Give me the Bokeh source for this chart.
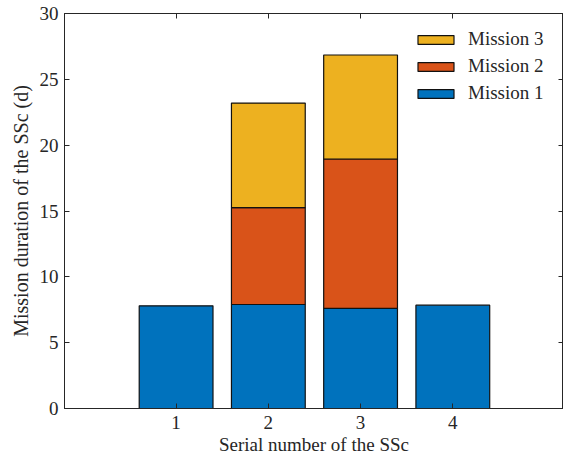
from bokeh.plotting import figure
from bokeh.models import (ColumnDataSource, Legend, LegendItem, LinearAxis,
                          FixedTicker, Range1d)
from bokeh.embed import file_html
from bokeh.resources import INLINE
import numpy as np

# Mission duration (days) of each SSc, split by mission
ssc = [1, 2, 3, 4]
mission1 = [7.8, 7.9, 7.6, 7.85]
mission2 = [0.0, 7.35, 11.35, 0.0]
mission3 = [0.0, 7.95, 7.9, 0.0]
series_names = ["Mission 1", "Mission 2", "Mission 3"]
series_colors = ["#0072BD", "#D95319", "#EDB120"]
y_ticks = [0, 5, 10, 15, 20, 25, 30]

FONT = "Liberation Serif"
INK = "#262626"

p = figure(width=563, height=460, output_backend="svg", toolbar_location=None,
           x_range=Range1d(-0.21, 5.2), y_range=Range1d(0, 30),
           min_border_left=64, min_border_right=0, min_border_top=13,
           min_border_bottom=52)
p.background_fill_color = "white"
p.border_fill_color = "white"
p.outline_line_color = INK
p.outline_line_width = 1
p.xgrid.visible = False
p.ygrid.visible = False

# stacked bars: each segment sits on the running total of the ones below
values = np.array([mission1, mission2, mission3], dtype=float)
bottoms = np.vstack([np.zeros(len(ssc)), np.cumsum(values, axis=0)[:-1]])
renderers = []
for vals, bots, name, color in zip(values, bottoms, series_names, series_colors):
    keep = vals > 0
    src = ColumnDataSource(dict(
        x=np.array(ssc)[keep],
        bottom=bots[keep],
        top=(bots + vals)[keep],
    ))
    r = p.vbar(x="x", bottom="bottom", top="top", width=0.8, source=src,
               fill_color=color, line_color="#111111", line_width=1.2)
    renderers.append(r)

# legend, newest mission on top, without a frame; placed by its bottom-left corner
legend = Legend(items=[LegendItem(label=n, renderers=[r])
                       for n, r in reversed(list(zip(series_names, renderers)))],
                location=(349, 304))
legend.border_line_color = None
legend.background_fill_alpha = 0
legend.label_text_font = FONT
legend.label_text_font_size = "19px"
legend.label_text_color = INK
legend.glyph_width = 45
legend.glyph_height = 11
legend.spacing = 5
legend.padding = 4
legend.margin = 0
legend.label_standoff = 10
legend.label_height = 19
p.add_layout(legend)

for ax in (p.xaxis[0], p.yaxis[0]):
    ax.major_tick_in = 5
    ax.major_tick_out = 0
    ax.minor_tick_line_color = None
    ax.axis_line_color = INK
    ax.major_tick_line_color = INK
    ax.major_label_text_font = FONT
    ax.major_label_text_font_size = "19px"
    ax.major_label_text_color = INK
    ax.axis_label_text_font = FONT
    ax.axis_label_text_font_style = "normal"
    ax.axis_label_text_color = INK

p.xaxis[0].ticker = FixedTicker(ticks=ssc)
p.yaxis[0].ticker = FixedTicker(ticks=y_ticks)
p.xaxis[0].axis_label = "Serial number of the SSc"
p.yaxis[0].axis_label = "Mission duration of the SSc (d)"
p.xaxis[0].axis_label_text_font_size = "19px"
p.yaxis[0].axis_label_text_font_size = "20px"
p.xaxis[0].major_label_standoff = 7
p.xaxis[0].axis_label_standoff = 2
p.yaxis[0].major_label_standoff = 6
p.yaxis[0].axis_label_standoff = 5

# mirrored tick marks on the top and right edges of the box
top_ax = LinearAxis(ticker=FixedTicker(ticks=ssc))
right_ax = LinearAxis(ticker=FixedTicker(ticks=y_ticks))
for ax in (top_ax, right_ax):
    ax.major_tick_in = 5
    ax.major_tick_out = 0
    ax.minor_tick_line_color = None
    ax.major_label_text_color = None
    ax.major_label_standoff = 0
    ax.axis_line_color = INK
    ax.major_tick_line_color = INK
p.add_layout(top_ax, "above")
p.add_layout(right_ax, "right")

open("out.html", "w").write(file_html(p, INLINE))
